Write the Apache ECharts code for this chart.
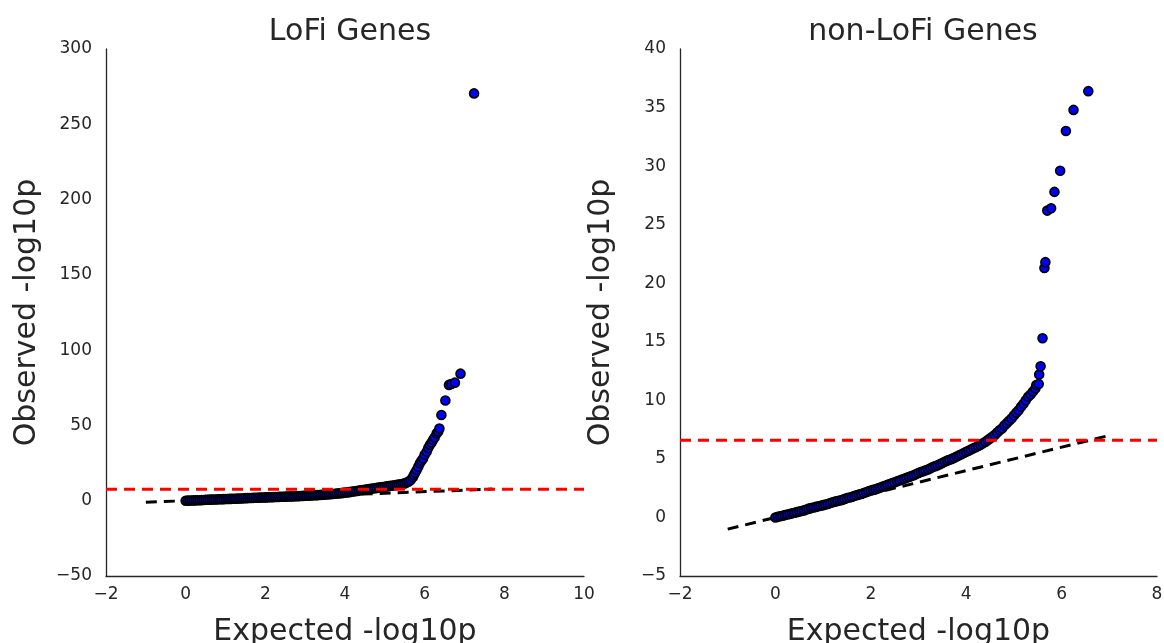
<!DOCTYPE html>
<html>
<head>
<meta charset="utf-8">
<script src="https://cdn.jsdelivr.net/npm/echarts@6/dist/echarts.min.js"></script>
<style>
html,body{margin:0;padding:0;background:#fff;}
#chart{width:1164px;height:643px;}
</style>
</head>
<body>
<div id="chart"></div>
<script>
// ---------- data ----------
var titles = ['LoFi Genes', 'non-LoFi Genes'];
var xAxisName = 'Expected -log10p';
var yAxisName = 'Observed -log10p';

// LoFi genes: [expected -log10p, observed -log10p]
var lofiPoints = [
  [0.00,0.00],[0.05,0.05],[0.10,0.10],[0.15,0.15],[0.20,0.20],[0.25,0.25],[0.30,0.30],[0.35,0.35],[0.40,0.40],[0.45,0.50],
  [0.50,0.60],[0.55,0.65],[0.60,0.70],[0.65,0.75],[0.70,0.80],[0.75,0.85],[0.80,0.90],[0.85,0.95],[0.90,1.00],[0.95,1.05],
  [1.00,1.10],[1.05,1.15],[1.10,1.20],[1.15,1.25],[1.20,1.30],[1.25,1.35],[1.30,1.40],[1.35,1.45],[1.40,1.50],[1.45,1.60],
  [1.50,1.70],[1.55,1.75],[1.60,1.80],[1.65,1.85],[1.70,1.90],[1.75,1.95],[1.80,2.00],[1.85,2.05],[1.90,2.10],[1.95,2.15],
  [2.00,2.20],[2.05,2.25],[2.10,2.30],[2.15,2.35],[2.20,2.40],[2.25,2.45],[2.30,2.50],[2.35,2.55],[2.40,2.60],[2.45,2.65],
  [2.50,2.70],[2.55,2.75],[2.60,2.80],[2.65,2.85],[2.70,2.90],[2.75,2.95],[2.80,3.00],[2.85,3.05],[2.90,3.10],[2.95,3.20],
  [3.00,3.30],[3.05,3.35],[3.10,3.40],[3.15,3.50],[3.20,3.60],[3.25,3.65],[3.30,3.70],[3.35,3.80],[3.40,3.90],[3.45,4.00],
  [3.50,4.10],[3.55,4.20],[3.60,4.30],[3.65,4.40],[3.70,4.50],[3.75,4.60],[3.80,4.80],[3.85,4.90],[3.90,5.00],[3.95,5.20],
  [4.00,5.40],[4.05,5.50],[4.10,5.70],[4.15,5.90],[4.20,6.10],[4.25,6.30],[4.30,6.50],[4.35,6.70],[4.40,6.90],[4.45,7.10],
  [4.50,7.30],[4.55,7.50],[4.60,7.70],[4.65,7.90],[4.70,8.10],[4.75,8.30],[4.80,8.50],[4.85,8.70],[4.90,8.90],[4.95,9.10],
  [5.00,9.30],[5.05,9.50],[5.10,9.70],[5.15,9.90],[5.20,10.1],[5.25,10.3],[5.30,10.5],[5.35,10.7],[5.40,10.9],[5.45,11.2],
  [5.50,11.5],[5.55,12.1],[5.60,12.8],[5.65,13.7],[5.70,15.5],[5.73,17.0],[5.76,18.5],[5.80,20.4],[5.84,22.5],[5.88,24.8],
  [5.92,26.5],[5.96,28.1],[6.00,30.5],[6.05,32.6],[6.09,35.0],[6.13,37.0],[6.17,38.5],[6.21,40.3],[6.25,42.0],[6.30,44.7],
  [6.34,46.0],[6.37,48.0],[6.42,56.9],[6.52,66.6],[6.61,76.9],[6.67,77.5],[6.76,78.4],[6.90,84.4],[7.24,270.5]
];

// non-LoFi genes: [expected -log10p, observed -log10p]
var nonLofiPoints = [
  [0.00,0.00],[0.05,0.05],[0.10,0.10],[0.15,0.15],[0.20,0.20],[0.25,0.25],[0.30,0.30],[0.35,0.35],[0.40,0.40],[0.45,0.45],
  [0.50,0.50],[0.55,0.55],[0.60,0.60],[0.65,0.68],[0.70,0.75],[0.75,0.80],[0.80,0.85],[0.85,0.90],[0.90,0.95],[0.95,1.00],
  [1.00,1.05],[1.05,1.10],[1.10,1.15],[1.15,1.23],[1.20,1.30],[1.25,1.35],[1.30,1.40],[1.35,1.45],[1.40,1.50],[1.45,1.58],
  [1.50,1.65],[1.55,1.70],[1.60,1.75],[1.65,1.83],[1.70,1.90],[1.75,1.95],[1.80,2.00],[1.85,2.08],[1.90,2.15],[1.95,2.23],
  [2.00,2.30],[2.05,2.35],[2.10,2.40],[2.15,2.48],[2.20,2.55],[2.25,2.63],[2.30,2.70],[2.35,2.78],[2.40,2.85],[2.45,2.93],
  [2.50,3.00],[2.55,3.08],[2.60,3.15],[2.65,3.23],[2.70,3.30],[2.75,3.38],[2.80,3.45],[2.85,3.53],[2.90,3.60],[2.95,3.70],
  [3.00,3.80],[3.05,3.88],[3.10,3.95],[3.15,4.03],[3.20,4.10],[3.25,4.20],[3.30,4.30],[3.35,4.38],[3.40,4.45],[3.45,4.55],
  [3.50,4.65],[3.55,4.75],[3.60,4.85],[3.65,4.93],[3.70,5.00],[3.75,5.10],[3.80,5.20],[3.85,5.30],[3.90,5.40],[3.95,5.50],
  [4.00,5.60],[4.05,5.70],[4.10,5.80],[4.15,5.90],[4.20,6.00],[4.25,6.10],[4.30,6.20],[4.35,6.33],[4.40,6.45],[4.45,6.60],
  [4.50,6.75],[4.55,6.90],[4.60,7.05],[4.65,7.25],[4.70,7.45],[4.75,7.60],[4.80,7.85],[4.85,8.05],[4.90,8.25],[4.95,8.45],
  [5.00,8.70],[5.05,8.95],[5.10,9.15],[5.15,9.45],[5.20,9.70],[5.25,10.0],[5.30,10.3],[5.35,10.5],[5.40,10.75],[5.45,11.0],
  [5.47,11.3],[5.52,11.4],[5.53,12.2],[5.56,12.9],[5.60,15.3],[5.64,21.3],[5.66,21.8],[5.70,26.2],[5.78,26.4],[5.85,27.8],
  [5.97,29.6],[6.09,33.0],[6.25,34.8],[6.56,36.4]
];

// y = x reference segments (dashed black): x extent
var lofiDiagX = [-1, 7.7];
var nonLofiDiagX = [-1, 7.05];
// significance thresholds (dashed red)
var lofiThreshold = 7.6;
var nonLofiThreshold = 6.6;

// axis ranges / ticks: [min, max, interval]
var lofiXRange = [-2, 10, 2];
var lofiYRange = [-50, 300, 50];
var nonLofiXRange = [-2, 8, 2];
var nonLofiYRange = [-5, 40, 5];

// ---------- build ----------
function diag(xs){ return xs.map(function(x){ return [x, x]; }); }
function hline(range, v){ return [[range[0], v], [range[1], v]]; }

var FONT = 'DejaVu Sans';
var INK = '#262626';
function fmt(v){ return String(v).replace('-', '\u2212'); }

function xAxis(idx, r){
  return {
    type:'value', gridIndex: idx, min:r[0], max:r[1], interval:r[2],
    name: xAxisName, nameLocation:'middle', nameGap:41,
    nameTextStyle:{fontFamily:FONT, fontSize:30, color:INK},
    axisLine:{show:true, onZero:false, lineStyle:{color:INK, width:1.3}},
    axisTick:{show:false}, splitLine:{show:false},
    axisLabel:{fontFamily:FONT, fontSize:17, color:INK, margin:10, formatter:fmt}
  };
}
function yAxis(idx, r){
  return {
    type:'value', gridIndex: idx, min:r[0], max:r[1], interval:r[2],
    name: yAxisName, nameLocation:'middle', nameGap:64,
    nameTextStyle:{fontFamily:FONT, fontSize:30, color:INK},
    axisLine:{show:true, onZero:false, lineStyle:{color:INK, width:1.3}},
    axisTick:{show:false}, splitLine:{show:false},
    axisLabel:{fontFamily:FONT, fontSize:17, color:INK, margin:14, formatter:fmt}
  };
}
function scatter(idx, data){
  return {
    type:'scatter', xAxisIndex:idx, yAxisIndex:idx, data:data,
    symbol:'circle', symbolSize:9, z:3, silent:true, large:false,
    itemStyle:{color:'#0000ff', borderColor:'#000000', borderWidth:1.6, opacity:1}
  };
}
function dashed(idx, data, color, z){
  return {
    type:'line', xAxisIndex:idx, yAxisIndex:idx, data:data, z:z,
    symbol:'none', silent:true, animation:false,
    lineStyle:{color:color, width:3, type:[11,7]}
  };
}

var option = {
  animation:false,
  backgroundColor:'#ffffff',
  title:[
    {text:titles[0], left:345, top:12, textAlign:'center',
     textStyle:{fontFamily:FONT, fontSize:30, fontWeight:'normal', color:INK}},
    {text:titles[1], left:918, top:12, textAlign:'center',
     textStyle:{fontFamily:FONT, fontSize:30, fontWeight:'normal', color:INK}}
  ],
  grid:[
    {left:106, top:49, width:478, height:527, containLabel:false, outerBoundsMode:'none'},
    {left:680, top:49, width:477, height:527, containLabel:false, outerBoundsMode:'none'}
  ],
  xAxis:[xAxis(0, lofiXRange), xAxis(1, nonLofiXRange)],
  yAxis:[yAxis(0, lofiYRange), yAxis(1, nonLofiYRange)],
  series:[
    dashed(0, diag(lofiDiagX), '#000000', 2),
    scatter(0, lofiPoints),
    dashed(0, hline(lofiXRange, lofiThreshold), '#ff0000', 4),
    dashed(1, diag(nonLofiDiagX), '#000000', 2),
    scatter(1, nonLofiPoints),
    dashed(1, hline(nonLofiXRange, nonLofiThreshold), '#ff0000', 4)
  ]
};

var chart = echarts.init(document.getElementById('chart'), null, {renderer:'canvas'});
chart.setOption(option);
</script>
</body>
</html>
